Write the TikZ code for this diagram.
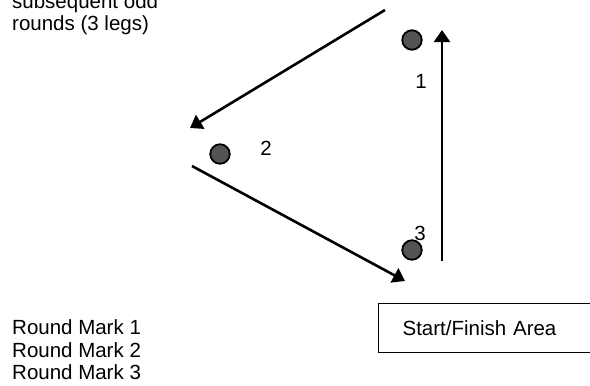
\documentclass[tikz,border=0pt]{standalone}
\usepackage{fontspec}
\setmainfont{Liberation Sans}
\usetikzlibrary{arrows.meta, positioning}
\tikzset{%
	round mark/.style={
		circle,
		draw,
		line width=1.8pt,
		fill=black!67,
		minimum size=19.5pt,
		inner sep=0pt
	},
	leg/.style={
		line width=2.6pt,
		-{Triangle[length=12pt,width=16pt]}
	},
}

\begin{document}
\begin{tikzpicture}[
				x=1pt, y=-1pt,
				every node/.style={inner sep=0pt, font=\fontsize{20.5}{22.5}\selectfont}
				]
				\clip (0,0) rectangle (590,386);
				% note at the top left
				\node[anchor=north west, align=left] (note) at (12,-7) {subsequent odd\\rounds (3 legs)};
				% marks
				\node[round mark] (mark1) at (412,40) {};
				\node[round mark] (mark2) at (220,154) {};
				\node[round mark] (mark3) at (412,250) {};
				\node (num1) at (421,81) {1};
				\node (num2) at (266,148) {2};
				\node (num3) at (420,233) {3};
				% legs
				\coordinate (legA) at (385,10);
				\coordinate (legAend) at (190,128);
				\coordinate (legB) at (192,166);
				\coordinate (legBend) at (405,281);
				\coordinate (legC) at (442,261);
				\coordinate (legCend) at (442,30);
				\draw[leg] (legA) -- (legAend);
				\draw[leg] (legB) -- (legBend);
				\draw[leg] (legC) -- (legCend);
				% start and legend
				\node[draw, line width=1.2pt, anchor=north west, minimum height=49pt,
					text width=200pt, inner xsep=24pt, align=left] (start) at (378,303) {Start/Finish Area};
				\node[anchor=north west, align=left] (legend) at (12,319.5) {Round Mark 1\\Round Mark 2\\Round Mark 3};
			\end{tikzpicture}
\end{document}
